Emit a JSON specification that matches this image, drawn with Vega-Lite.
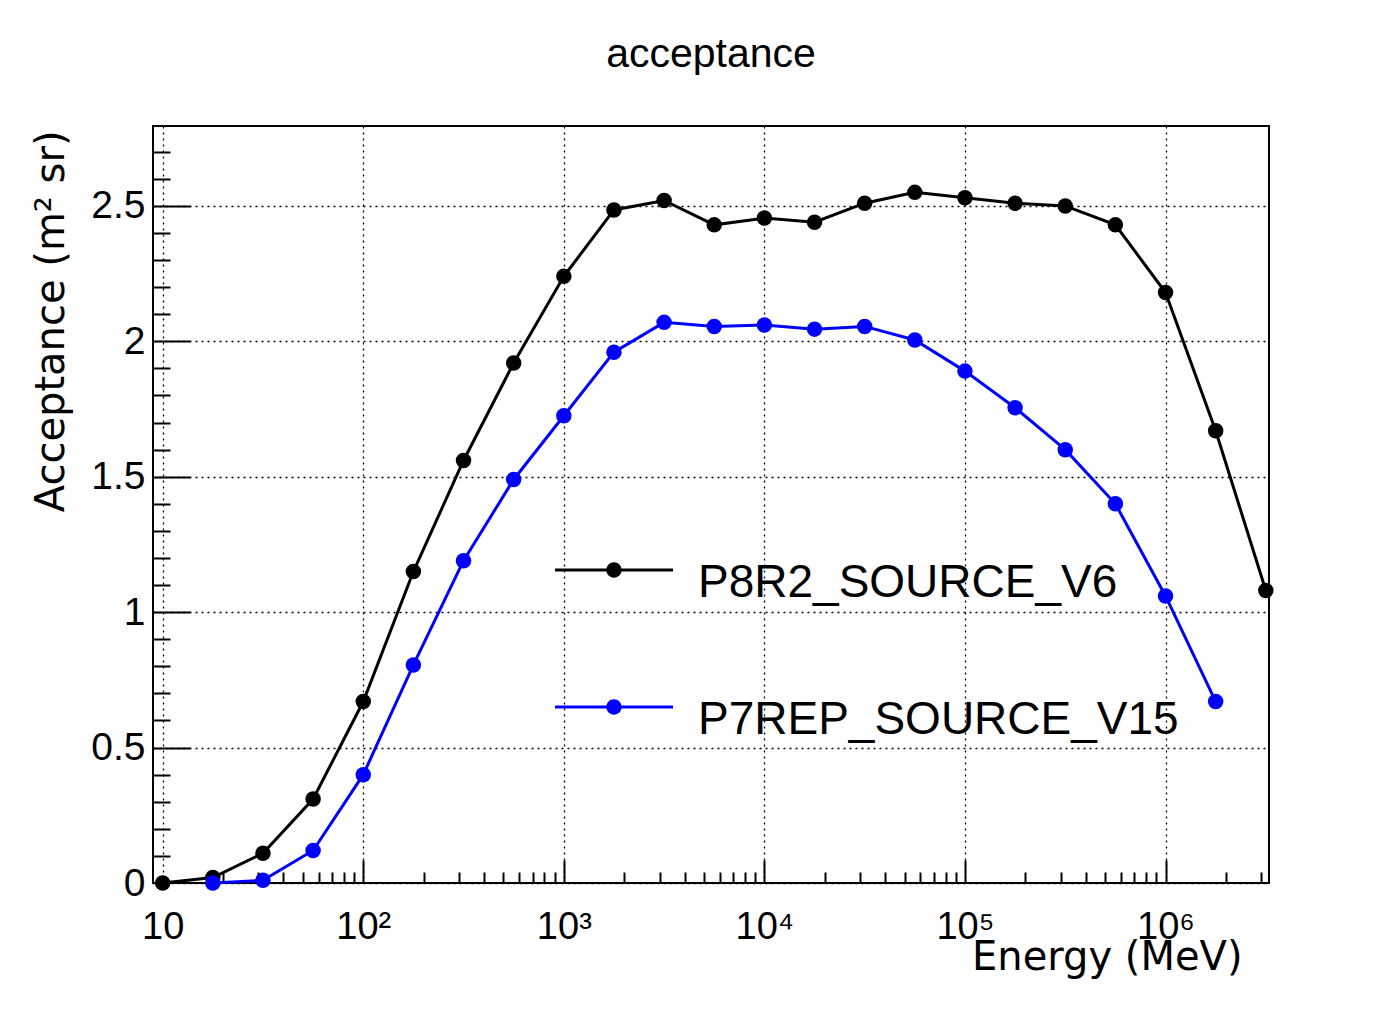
{
  "$schema": "https://vega.github.io/schema/vega-lite/v6.json",
  "width": 1116,
  "height": 757,
  "autosize": {"type": "none"},
  "padding": {"left": 153, "top": 126, "right": 122, "bottom": 130},
  "background": "white",
  "title": {"text": "acceptance", "frame": "group", "anchor": "middle", "font": "Liberation Sans", "fontSize": 41, "fontWeight": "normal", "color": "black", "baseline": "alphabetic", "offset": 18},
  "config": {"view": {"stroke": "black", "strokeWidth": 2}, "font": "Liberation Sans"},
  "data": {"values": [
    {"E": 10, "A": 0.0, "s": "P8R2_SOURCE_V6"},
    {"E": 17.78, "A": 0.02, "s": "P8R2_SOURCE_V6"},
    {"E": 31.62, "A": 0.11, "s": "P8R2_SOURCE_V6"},
    {"E": 56.23, "A": 0.31, "s": "P8R2_SOURCE_V6"},
    {"E": 100, "A": 0.67, "s": "P8R2_SOURCE_V6"},
    {"E": 177.8, "A": 1.15, "s": "P8R2_SOURCE_V6"},
    {"E": 316.2, "A": 1.56, "s": "P8R2_SOURCE_V6"},
    {"E": 562.3, "A": 1.92, "s": "P8R2_SOURCE_V6"},
    {"E": 1000, "A": 2.24, "s": "P8R2_SOURCE_V6"},
    {"E": 1778, "A": 2.485, "s": "P8R2_SOURCE_V6"},
    {"E": 3162, "A": 2.52, "s": "P8R2_SOURCE_V6"},
    {"E": 5623, "A": 2.43, "s": "P8R2_SOURCE_V6"},
    {"E": 10000, "A": 2.455, "s": "P8R2_SOURCE_V6"},
    {"E": 17783, "A": 2.44, "s": "P8R2_SOURCE_V6"},
    {"E": 31623, "A": 2.51, "s": "P8R2_SOURCE_V6"},
    {"E": 56234, "A": 2.55, "s": "P8R2_SOURCE_V6"},
    {"E": 100000, "A": 2.53, "s": "P8R2_SOURCE_V6"},
    {"E": 177828, "A": 2.51, "s": "P8R2_SOURCE_V6"},
    {"E": 316228, "A": 2.5, "s": "P8R2_SOURCE_V6"},
    {"E": 562341, "A": 2.43, "s": "P8R2_SOURCE_V6"},
    {"E": 1000000, "A": 2.18, "s": "P8R2_SOURCE_V6"},
    {"E": 1778279, "A": 1.67, "s": "P8R2_SOURCE_V6"},
    {"E": 3162278, "A": 1.08, "s": "P8R2_SOURCE_V6"},
    {"E": 17.78, "A": 0.0, "s": "P7REP_SOURCE_V15"},
    {"E": 31.62, "A": 0.01, "s": "P7REP_SOURCE_V15"},
    {"E": 56.23, "A": 0.12, "s": "P7REP_SOURCE_V15"},
    {"E": 100, "A": 0.4, "s": "P7REP_SOURCE_V15"},
    {"E": 177.8, "A": 0.805, "s": "P7REP_SOURCE_V15"},
    {"E": 316.2, "A": 1.19, "s": "P7REP_SOURCE_V15"},
    {"E": 562.3, "A": 1.49, "s": "P7REP_SOURCE_V15"},
    {"E": 1000, "A": 1.725, "s": "P7REP_SOURCE_V15"},
    {"E": 1778, "A": 1.96, "s": "P7REP_SOURCE_V15"},
    {"E": 3162, "A": 2.07, "s": "P7REP_SOURCE_V15"},
    {"E": 5623, "A": 2.055, "s": "P7REP_SOURCE_V15"},
    {"E": 10000, "A": 2.06, "s": "P7REP_SOURCE_V15"},
    {"E": 17783, "A": 2.045, "s": "P7REP_SOURCE_V15"},
    {"E": 31623, "A": 2.055, "s": "P7REP_SOURCE_V15"},
    {"E": 56234, "A": 2.005, "s": "P7REP_SOURCE_V15"},
    {"E": 100000, "A": 1.89, "s": "P7REP_SOURCE_V15"},
    {"E": 177828, "A": 1.755, "s": "P7REP_SOURCE_V15"},
    {"E": 316228, "A": 1.6, "s": "P7REP_SOURCE_V15"},
    {"E": 562341, "A": 1.4, "s": "P7REP_SOURCE_V15"},
    {"E": 1000000, "A": 1.06, "s": "P7REP_SOURCE_V15"},
    {"E": 1778279, "A": 0.67, "s": "P7REP_SOURCE_V15"}
  ]},
  "layer": [
    {
      "mark": {"type": "line", "strokeWidth": 3, "clip": false},
      "encoding": {
        "x": {"field": "E", "type": "quantitative",
          "scale": {"type": "log", "domain": [8.947, 3280000], "nice": false},
          "axis": {"orient": "bottom", "values": [10, 100, 1000, 10000, 100000, 1000000],
            "labelExpr": "['10','10²','10³','10⁴','10⁵','10⁶'][round(log(datum.value)/LN10)-1]",
            "ticks": false, "domain": false, "grid": true, "gridColor": "black", "gridDash": [2, 4], "gridWidth": 1.3, "gridOpacity": 1,
            "labelFont": "Liberation Sans", "labelFontSize": 38, "labelColor": "black", "labelPadding": 55, "labelBaseline": "alphabetic",
            "labelFlush": false, "labelOverlap": false, "labelBound": false,
            "title": "Energy (MeV)", "titleFont": "DejaVu Sans", "titleFontSize": 40, "titleFontWeight": "normal", "titleColor": "black",
            "titleX": 1089, "titleY": 86, "titleAlign": "right", "titleBaseline": "alphabetic", "titleAnchor": "end"}},
        "y": {"field": "A", "type": "quantitative",
          "scale": {"domain": [0, 2.795], "nice": false, "zero": false},
          "axis": {"orient": "left", "values": [0, 0.5, 1, 1.5, 2, 2.5], "format": "~g",
            "ticks": false, "domain": false, "grid": true, "gridColor": "black", "gridDash": [2, 4], "gridWidth": 1.3, "gridOpacity": 1,
            "labelFont": "Liberation Sans", "labelFontSize": 39, "labelColor": "black", "labelPadding": 8,
            "labelFlush": false, "labelOverlap": false, "labelBound": false,
            "title": "Acceptance (m² sr)", "titleFont": "DejaVu Sans", "titleFontSize": 40, "titleFontWeight": "normal", "titleColor": "black",
            "titleAngle": 270, "titleX": -90, "titleY": 4, "titleAlign": "right", "titleBaseline": "alphabetic", "titleAnchor": "end"}},
        "color": {"field": "s", "type": "nominal",
          "scale": {"domain": ["P8R2_SOURCE_V6", "P7REP_SOURCE_V15"], "range": ["#000000", "#0000ff"]},
          "legend": {"orient": "none", "legendX": 402, "legendY": 385, "title": null,
            "symbolType": "M-1,-0.025H1V0.025H-1Z M0.13,0A0.13,0.13 0 1,1 -0.13,0A0.13,0.13 0 1,1 0.13,0Z",
            "symbolSize": 13924, "symbolStrokeWidth": 0, "symbolOpacity": 1,
            "labelFont": "Liberation Sans", "labelFontSize": 46, "labelColor": "black", "labelOffset": 25, "labelLimit": 0,
            "rowPadding": 42, "padding": 0,
            "encoding": {"labels": {"dy": {"value": 13}}}}}
      }
    },
    {
      "mark": {"type": "point", "filled": true, "size": 240, "opacity": 1, "clip": false},
      "encoding": {
        "x": {"field": "E", "type": "quantitative",
          "scale": {"type": "log", "domain": [8.947, 3280000], "nice": false},
          "axis": {"orient": "bottom",
            "values": [20, 30, 40, 50, 60, 70, 80, 90, 100, 200, 300, 400, 500, 600, 700, 800, 900, 1000, 2000, 3000, 4000, 5000, 6000, 7000, 8000, 9000, 10000, 20000, 30000, 40000, 50000, 60000, 70000, 80000, 90000, 100000, 200000, 300000, 400000, 500000, 600000, 700000, 800000, 900000, 1000000, 2000000, 3000000],
            "labels": false, "domain": false, "grid": false, "ticks": true, "tickSize": -11, "tickColor": "black", "tickWidth": 2, "title": null,
            "encoding": {"ticks": {"y2": {"value": {"expr": "abs(log(datum.value)/LN10 - round(log(datum.value)/LN10)) < 0.001 ? -23 : -11"}}}}}},
        "y": {"field": "A", "type": "quantitative",
          "scale": {"domain": [0, 2.795], "nice": false, "zero": false},
          "axis": {"orient": "left",
            "values": [0.1, 0.2, 0.3, 0.4, 0.5, 0.6, 0.7, 0.8, 0.9, 1.0, 1.1, 1.2, 1.3, 1.4, 1.5, 1.6, 1.7, 1.8, 1.9, 2.0, 2.1, 2.2, 2.3, 2.4, 2.5, 2.6, 2.7],
            "labels": false, "domain": false, "grid": false, "ticks": true, "tickSize": -17, "tickColor": "black", "tickWidth": 2, "title": null,
            "encoding": {"ticks": {"x2": {"value": {"expr": "abs(datum.value*2 - round(datum.value*2)) < 0.001 ? 37 : 17"}}}}}},
        "color": {"field": "s", "type": "nominal",
          "scale": {"domain": ["P8R2_SOURCE_V6", "P7REP_SOURCE_V15"], "range": ["#000000", "#0000ff"]},
          "legend": {"orient": "none", "legendX": 402, "legendY": 385, "title": null,
            "symbolType": "M-1,-0.025H1V0.025H-1Z M0.13,0A0.13,0.13 0 1,1 -0.13,0A0.13,0.13 0 1,1 0.13,0Z",
            "symbolSize": 13924, "symbolStrokeWidth": 0, "symbolOpacity": 1,
            "labelFont": "Liberation Sans", "labelFontSize": 46, "labelColor": "black", "labelOffset": 25, "labelLimit": 0,
            "rowPadding": 42, "padding": 0,
            "encoding": {"labels": {"dy": {"value": 13}}}}}
      }
    }
  ],
  "resolve": {"axis": {"x": "independent", "y": "independent"}}
}
